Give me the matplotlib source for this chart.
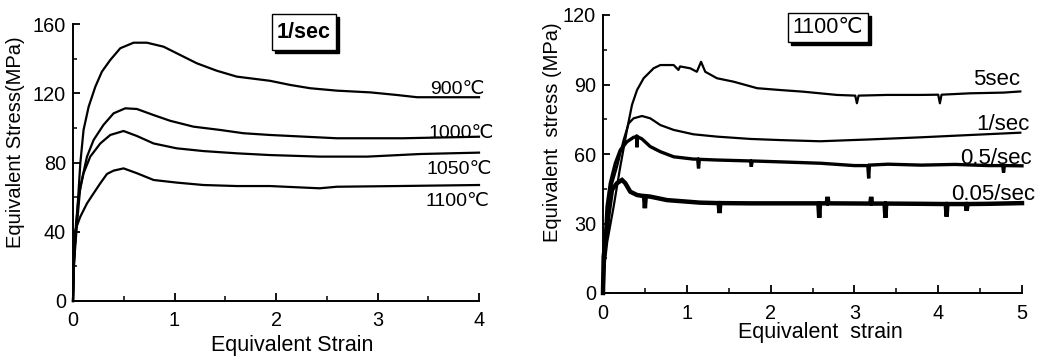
import matplotlib
matplotlib.use("Agg")
import matplotlib.pyplot as plt
from matplotlib.patches import Rectangle

plt.rcParams['font.family'] = ['Liberation Sans', 'DejaVu Sans']

# ---- Left panel: strain rate 1/sec, four temperatures ----
left_x_900 = [0, 0.006, 0.039, 0.072, 0.104, 0.154, 0.22, 0.285, 0.367, 0.466, 0.597, 0.728, 0.892,
              1.056, 1.22, 1.417, 1.614, 1.94, 2.14, 2.336, 2.6, 2.93, 3.19, 3.39, 4.0]
left_y_900 = [0, 22, 48.7, 79.5, 98.8, 112.2, 123.8, 132.5, 139.2, 146, 149.2, 149.2, 146.9,
              142.1, 137.3, 133, 129.6, 127.2, 124.8, 122.9, 121.5, 120.5, 119, 117.7, 117.7]
left_x_1000 = [0, 0.01, 0.04, 0.072, 0.138, 0.203, 0.30, 0.40, 0.515, 0.63, 0.794, 0.957, 1.187,
               1.45, 1.68, 1.94, 2.6, 3.25, 4.0]
left_y_1000 = [0, 22, 45, 66, 83.4, 93, 101.7, 108.4, 111.3, 110.9, 107.4, 104.1, 100.7,
               98.8, 96.9, 95.9, 94, 94, 94.9]
left_x_1050 = [0, 0.01, 0.03, 0.055, 0.104, 0.17, 0.269, 0.367, 0.498, 0.63, 0.794, 1.02, 1.285,
               1.614, 1.94, 2.43, 2.9, 3.42, 4.0]
left_y_1050 = [0, 22, 45, 60.2, 73.8, 83.4, 91, 95.9, 98.2, 95.3, 91, 88.2, 86.6,
               85.3, 84.3, 83.4, 83.4, 84.9, 85.7]
left_x_1100 = [0, 0.01, 0.023, 0.072, 0.138, 0.203, 0.269, 0.335, 0.40, 0.498, 0.63, 0.794, 1.02,
               1.285, 1.614, 1.94, 2.43, 2.6, 3.2, 4.0]
left_y_1100 = [0, 22, 41, 48.7, 56.4, 62.2, 68, 73.4, 75.3, 76.6, 73.8, 69.9, 68.4,
               67, 66.4, 66.4, 65.1, 66, 66.4, 67]
left_labels = ['900\u2103', '1000\u2103', '1050\u2103', '1100\u2103']
left_label_x = [3.52, 3.50, 3.48, 3.47]
left_label_y = [122.3, 96.8, 75.7, 57.4]

# ---- Right panel: 1100C, four strain rates ----
r_x_5 = [0, 0.008, 0.05, 0.127, 0.206, 0.286, 0.346, 0.406, 0.485, 0.604, 0.684, 0.843, 0.9, 0.92,
         1.04, 1.12, 1.17, 1.22, 1.36, 1.56, 1.84, 2.12, 2.39, 2.79, 3.01, 3.03, 3.05, 3.39, 3.79,
         4.0, 4.02, 4.04, 4.38, 4.78, 4.98]
r_y_5 = [0, 8.5, 22, 37.3, 54.5, 70.4, 81.2, 87.6, 92.7, 97, 98.4, 98.4, 96.3, 97.8,
         97, 95.5, 99.8, 95.5, 92.7, 91.2, 88.4, 87.6, 86.9, 85.5, 85.2, 81.9, 85.2, 85.5, 85.5,
         85.6, 81.9, 85.6, 86.2, 86.5, 87]
r_x_1 = [0, 0.02, 0.087, 0.167, 0.246, 0.306, 0.365, 0.465, 0.564, 0.684, 0.843, 1.08, 1.36,
         1.76, 2.12, 2.59, 3.19, 3.79, 4.38, 4.98]
r_y_1 = [0, 20, 44.5, 54.5, 66, 73.2, 75.4, 76.4, 75.4, 72.5, 70.4, 68.5, 67.5,
         66.5, 66, 65.5, 66.3, 67.2, 68.2, 69.2]
r_x_05 = [0, 0.02, 0.048, 0.087, 0.147, 0.206, 0.286, 0.365, 0.40, 0.405, 0.41, 0.465, 0.564,
          0.684, 0.843, 1.08, 1.13, 1.14, 1.15, 1.36, 1.76, 1.77, 1.78, 2.2, 2.6, 3.0, 3.16, 3.17,
          3.18, 3.4, 3.8, 4.2, 4.6, 4.77, 4.78, 4.79, 5.0]
r_y_05 = [0, 18, 37.3, 47.4, 56, 61.7, 65.3, 67.2, 67.5, 62.9, 67.5, 66.5, 63.2,
          61, 58.8, 57.8, 57.8, 53.8, 57.7, 57.4, 57, 54.5, 57, 56.5, 56, 55, 55, 49.5,
          55.2, 55.6, 55.2, 55.5, 55, 55, 52, 55, 54.9]
r_x_005 = [0, 0.008, 0.067, 0.107, 0.167, 0.227, 0.266, 0.326, 0.406, 0.49, 0.50, 0.51, 0.564,
           0.764, 1.16, 1.38, 1.39, 1.40, 1.76, 2.12, 2.57, 2.58, 2.59, 2.67, 2.68, 2.69, 3.19,
           3.2, 3.21, 3.36, 3.37, 3.38, 3.79, 4.09, 4.10, 4.11, 4.33, 4.34, 4.35, 4.6, 5.0]
r_y_005 = [0, 15.7, 34.4, 44.5, 47.4, 48.8, 47.4, 43.7, 42.3, 41.8, 36.6, 41.8, 41.6,
           40.1, 39, 38.8, 34.5, 38.8, 38.7, 38.7, 38.7, 32.5, 38.7, 38.7, 41.5, 38.7, 38.6,
           41.5, 38.6, 38.6, 32.5, 38.6, 38.5, 38.4, 33, 38.4, 38.4, 35.5, 38.4, 38.5, 38.8]
right_labels = ['5sec', '1/sec', '0.5/sec', '0.05/sec']
right_label_x = [4.42, 4.46, 4.26, 4.16]
right_label_y = [92, 72.6, 58.2, 42.4]

W, H = 1043, 360
fig = plt.figure(figsize=(W / 100, H / 100), dpi=100)

TFS = 14.3


def style(ax):
    for s in ['top', 'right']:
        ax.spines[s].set_visible(False)
    for s in ['left', 'bottom']:
        ax.spines[s].set_linewidth(1.4)
    ax.tick_params(axis='x', which='major', direction='in', length=6, width=1.3, labelsize=TFS, pad=7)
    ax.tick_params(axis='x', which='minor', direction='in', length=3.5, width=1.1)
    ax.tick_params(axis='y', which='major', direction='in', length=5, width=1.3, labelsize=TFS, pad=5)
    ax.tick_params(axis='y', which='minor', direction='in', length=3, width=1.1)


# Left axes
axL = fig.add_axes([73 / W, (H - 301) / H, (479 - 73) / W, (301 - 24) / H])
for xs, ys in [(left_x_900, left_y_900), (left_x_1000, left_y_1000),
               (left_x_1050, left_y_1050), (left_x_1100, left_y_1100)]:
    axL.plot(xs, ys, color='black', lw=1.6, clip_on=False, solid_joinstyle='round')
axL.set_xlim(0, 4)
axL.set_ylim(0, 160)
axL.set_xticks([0, 1, 2, 3, 4])
axL.set_xticks([0.5, 1.5, 2.5, 3.5], minor=True)
axL.set_yticks([0, 40, 80, 120, 160])
axL.set_yticks([20, 60, 100, 140], minor=True)
style(axL)
axL.set_xlabel('Equivalent Strain', fontsize=15.5)
axL.xaxis.set_label_coords(0.54, -0.123)
axL.set_ylabel('Equivalent Stress(MPa)', fontsize=14.5)
axL.yaxis.set_label_coords(-0.118, 0.572)
for lab, lx, ly in zip(left_labels, left_label_x, left_label_y):
    axL.text(lx, ly, lab, fontsize=14, ha='left', va='center', clip_on=False)

# Right axes
axR = fig.add_axes([603 / W, (H - 293) / H, (1022 - 603) / W, (293 - 15) / H])
axR.plot(r_x_5, r_y_5, color='black', lw=1.6, clip_on=False)
axR.plot(r_x_1, r_y_1, color='black', lw=1.6, clip_on=False)
axR.plot(r_x_05, r_y_05, color='black', lw=2.4, clip_on=False, solid_joinstyle='miter')
axR.plot(r_x_005, r_y_005, color='black', lw=3.2, clip_on=False, solid_joinstyle='miter')
axR.set_xlim(0, 5)
axR.set_ylim(0, 120)
axR.set_xticks([0, 1, 2, 3, 4, 5])
axR.set_xticks([0.5, 1.5, 2.5, 3.5, 4.5], minor=True)
axR.set_yticks([0, 30, 60, 90, 120])
axR.set_yticks([15, 45, 75, 105], minor=True)
style(axR)
axR.tick_params(axis='x', which='major', pad=8)
axR.set_xlabel('Equivalent  strain', fontsize=15.5)
axR.xaxis.set_label_coords(0.518, -0.106)
axR.set_ylabel('Equivalent  stress (MPa)', fontsize=14.5)
axR.yaxis.set_label_coords(-0.098, 0.58)
for lab, lx, ly in zip(right_labels, right_label_x, right_label_y):
    axR.text(lx, ly, lab, fontsize=16, ha='left', va='center', clip_on=False)


# Boxed titles with drop shadow
def boxed(x0, y0, x1, y1, text, weight):
    sh = 3
    fig.patches.append(Rectangle(((x0 + sh) / W, (H - y1 - sh) / H), (x1 - x0) / W, (y1 - y0) / H,
                                 transform=fig.transFigure, facecolor='black', edgecolor='black', lw=1))
    fig.patches.append(Rectangle((x0 / W, (H - y1) / H), (x1 - x0) / W, (y1 - y0) / H,
                                 transform=fig.transFigure, facecolor='white', edgecolor='black', lw=1))
    fig.text((x0 + x1) / 2 / W, (H - (y0 + y1) / 2) / H, text, ha='center', va='center',
             fontsize=15.5, fontweight=weight)


boxed(272, 14, 336, 50, '1/sec', 'bold')
boxed(788, 13, 868, 42, '1100\u2103', 'normal')

fig.savefig('out.png', dpi=100)
